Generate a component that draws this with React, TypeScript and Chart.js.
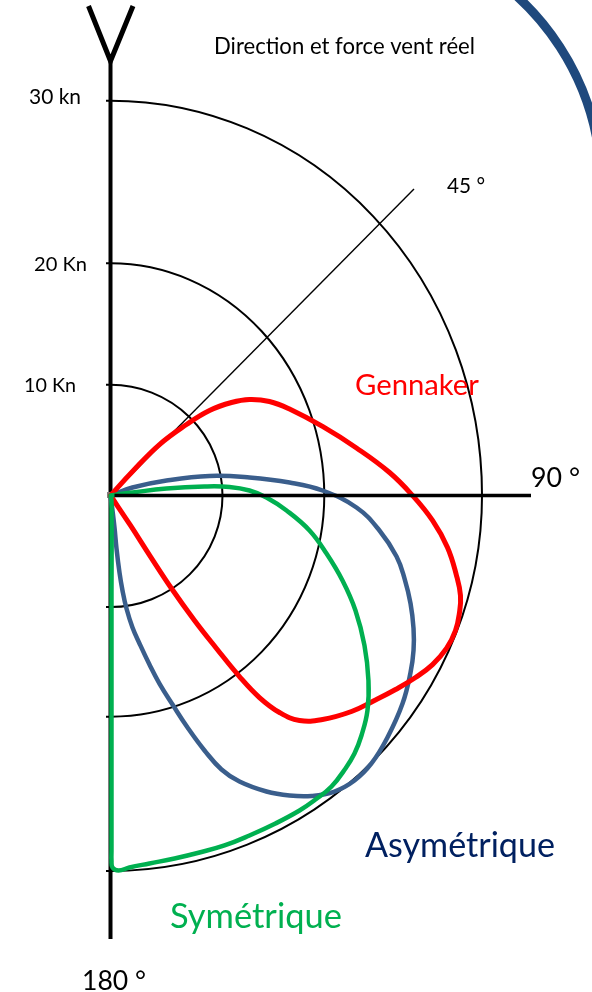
import React, { useEffect, useRef } from "react";
import { Chart, registerables } from "chart.js";

Chart.register(...registerables);

// ---- Data (knots; x = east component, y = north component of each polar curve) ----
const gennakerX = [0, 1.98, 4.41, 6.85, 8.92, 10.9, 12.52, 14.32, 16.13, 19.1, 22.16, 25.14, 27.21, 29.01, 30.36, 31.17, 31.53, 31.44, 31.08, 30.27, 29.01, 27.48, 25.68, 23.78, 21.71, 19.1, 17.03, 15.23, 13.42, 11.62, 9.55, 7.57, 5.5, 3.6, 1.8, 0];
const gennakerY = [0, 2.16, 4.59, 6.4, 7.66, 8.38, 8.65, 8.47, 7.79, 6.22, 4.28, 2.07, 0, -2.25, -4.68, -7.21, -9.01, -10.54, -12.16, -13.78, -15.23, -16.4, -17.48, -18.47, -19.46, -20.18, -20.27, -19.55, -18.2, -16.31, -13.78, -11.26, -8.38, -5.5, -2.7, 0];

const asymX = [0, 1.98, 5.05, 8.92, 12.52, 16.13, 19.1, 22.16, 24.23, 25.77, 26.49, 27.03, 27.3, 27.3, 27.03, 26.31, 24.95, 23.51, 21.98, 20.18, 18.11, 16.13, 14.05, 11.62, 10.0, 8.47, 6.94, 5.59, 4.41, 3.51, 2.61, 1.98, 1.44, 1.08, 0.81, 0.54, 0.36, 0.18, 0];
const asymY = [0, 0.72, 1.35, 1.76, 1.62, 1.17, 0.45, -1.08, -3.15, -5.5, -7.48, -9.73, -11.98, -13.96, -15.95, -18.74, -21.8, -24.14, -25.68, -26.67, -27.07, -27.03, -26.67, -25.77, -24.68, -22.97, -20.9, -18.83, -16.94, -15.23, -13.33, -11.89, -10.18, -8.56, -6.94, -4.77, -2.88, -1.35, 0];

const symX = [0, 1.98, 5.05, 8.47, 10.72, 12.52, 14.05, 15.86, 17.93, 19.46, 20.9, 22.07, 22.88, 23.24, 23.15, 22.61, 21.98, 21.17, 19.91, 18.47, 17.03, 14.86, 12.52, 10.27, 8.02, 5.77, 3.51, 1.71, 0.72, 0.18, 0.09, 0.09, 0.09, 0.09, 0.09, 0];
const symY = [0, 0.27, 0.63, 0.81, 0.77, 0.45, -0.18, -1.35, -3.15, -5.23, -7.66, -10.36, -13.51, -16.67, -19.37, -21.62, -23.24, -24.59, -26.22, -27.39, -28.38, -29.55, -30.63, -31.53, -32.16, -32.7, -33.15, -33.51, -33.78, -33.51, -32.88, -31.98, -23.87, -9.46, -0.45, 0];

const speedTicks = [10, 20, 30];
const speedLabels = ["10 Kn", "20 Kn", "30 kn"];
const angleLabels = ["45 °", "90 °", "180 °"];
const sailNames = ["Gennaker", "Asymétrique", "Symétrique"];
const title = "Direction et force vent réel";

// ---- Layout / style constants ----
const W = 592;
const H = 992;
const PX_PER_KN = 11.1;
const ORIGIN = { x: 110.5, y: 495.5 };
const X_MIN = -ORIGIN.x / PX_PER_KN;
const X_MAX = X_MIN + W / PX_PER_KN;
const Y_MAX = ORIGIN.y / PX_PER_KN;
const Y_MIN = Y_MAX - H / PX_PER_KN;

// drawn ring shapes (knot units of the hidden scales): east, north, south radii
const RING_SHAPES = [
  { east: 10.09, north: 9.97, south: 10.05 },
  { east: 19.26, north: 20.92, south: 19.93 },
  { east: 33.47, north: 35.57, south: 33.83 },
];

const FONT = "Lato, 'Open Sans', sans-serif";

function drawFitted(ctx: CanvasRenderingContext2D, text: string, x: number, baseline: number, width: number, color: string) {
  ctx.save();
  ctx.font = `100px ${FONT}`;
  const w = ctx.measureText(text).width || 1;
  const size = (100 * width) / w;
  ctx.font = `${size}px ${FONT}`;
  ctx.fillStyle = color;
  ctx.textBaseline = "alphabetic";
  ctx.textAlign = "left";
  ctx.fillText(text, x, baseline);
  ctx.restore();
}

const decor = {
  id: "polarDecor",
  beforeDatasetsDraw(chart: any) {
    const ctx: CanvasRenderingContext2D = chart.ctx;
    const xs = chart.scales.x;
    const ys = chart.scales.y;
    const ox = xs.getPixelForValue(0);
    const oy = ys.getPixelForValue(0);
    ctx.save();
    ctx.fillStyle = "#ffffff";
    ctx.fillRect(0, 0, W, H);

    // decorative slide arc, top-right corner
    ctx.beginPath();
    ctx.strokeStyle = "#1F497D";
    ctx.lineWidth = 9;
    ctx.arc(343.2, 187.3, 258.2, -1.0, -0.15);
    ctx.stroke();

    // rings
    ctx.strokeStyle = "#000";
    ctx.lineWidth = 2;
    RING_SHAPES.forEach((r) => {
      const rx = xs.getPixelForValue(r.east) - ox;
      const rn = oy - ys.getPixelForValue(r.north);
      const rs = ys.getPixelForValue(-r.south) - oy;
      ctx.beginPath();
      ctx.ellipse(ox, oy, rx, rn, 0, -Math.PI / 2, 0);
      ctx.stroke();
      ctx.beginPath();
      ctx.ellipse(ox, oy, rx, rs, 0, 0, Math.PI / 2);
      ctx.stroke();
      ctx.beginPath();
      ctx.moveTo(ox - 4.5, oy - rn);
      ctx.lineTo(ox, oy - rn);
      ctx.moveTo(ox - 4.5, oy + rs);
      ctx.lineTo(ox, oy + rs);
      ctx.stroke();
    });

    // 45° line
    ctx.beginPath();
    ctx.lineWidth = 1.4;
    ctx.moveTo(ox, oy);
    ctx.lineTo(414, 189);
    ctx.stroke();

    // vertical axis
    ctx.beginPath();
    ctx.lineWidth = 4;
    ctx.moveTo(ox, 62);
    ctx.lineTo(ox, 939);
    ctx.stroke();

    // wind arrow "V"
    ctx.beginPath();
    ctx.lineWidth = 5;
    ctx.lineJoin = "miter";
    ctx.moveTo(88.5, 6);
    ctx.lineTo(ox, 61);
    ctx.lineTo(133, 6);
    ctx.stroke();

    // small marker at the origin
    ctx.fillStyle = "#7f7f7f";
    ctx.fillRect(ox - 3.5, oy - 3.5, 6, 6);
    ctx.restore();
  },
  afterDatasetsDraw(chart: any) {
    const ctx: CanvasRenderingContext2D = chart.ctx;
    const xs = chart.scales.x;
    const ys = chart.scales.y;
    const ox = xs.getPixelForValue(0);
    const oy = ys.getPixelForValue(0);
    ctx.save();
    ctx.beginPath();
    ctx.strokeStyle = "#000";
    ctx.lineWidth = 3.5;
    ctx.moveTo(ox + 4, oy);
    ctx.lineTo(531, oy);
    ctx.stroke();
    ctx.restore();

    drawFitted(ctx, title, 214, 54, 261, "#000");
    drawFitted(ctx, speedLabels[2], 29, 104, 52, "#000");
    drawFitted(ctx, speedLabels[1], 34, 271, 53, "#000");
    drawFitted(ctx, speedLabels[0], 24, 392, 52, "#000");
    drawFitted(ctx, angleLabels[0], 447, 193, 38, "#000");
    drawFitted(ctx, angleLabels[1], 531, 487, 49, "#000");
    drawFitted(ctx, angleLabels[2], 82, 990, 64, "#000");
    drawFitted(ctx, sailNames[0], 355, 395, 124, "#FF0000");
    drawFitted(ctx, sailNames[1], 365, 857, 190, "#002060");
    drawFitted(ctx, sailNames[2], 170, 928, 172, "#00B050");
    void speedTicks;
  },
};

function toPoints(xv: number[], yv: number[]) {
  return xv.map((x, i) => ({ x, y: yv[i] }));
}

export default function App() {
  const ref = useRef<HTMLCanvasElement | null>(null);
  useEffect(() => {
    if (!ref.current) return;
    const common = {
      showLine: true,
      fill: false,
      pointRadius: 0,
      tension: 0.42,
      borderCapStyle: "round",
      borderJoinStyle: "round",
      clip: false,
    };
    const chart = new Chart(ref.current, {
      type: "scatter",
      data: {
        datasets: [
          { ...common, label: sailNames[2], data: toPoints(symX, symY), borderColor: "#00B050", borderWidth: 4.5 },
          { ...common, label: sailNames[0], data: toPoints(gennakerX, gennakerY), borderColor: "#FF0000", borderWidth: 5 },
          { ...common, label: sailNames[1], data: toPoints(asymX, asymY), borderColor: "#3A5E8C", borderWidth: 4.5 },
        ] as any,
      },
      options: {
        animation: false,
        responsive: false,
        maintainAspectRatio: false,
        events: [],
        layout: { padding: 0 },
        plugins: { legend: { display: false }, tooltip: { enabled: false } },
        scales: {
          x: { type: "linear", min: X_MIN, max: X_MAX, display: false },
          y: { type: "linear", min: Y_MIN, max: Y_MAX, display: false },
        },
      },
      plugins: [decor],
    });
    return () => chart.destroy();
  }, []);
  return (
    <div style={{ position: "fixed", left: 0, top: 0, width: W, height: H, background: "#fff" }}>
      <canvas ref={ref} width={W} height={H} style={{ display: "block", width: W, height: H }} />
    </div>
  );
}
